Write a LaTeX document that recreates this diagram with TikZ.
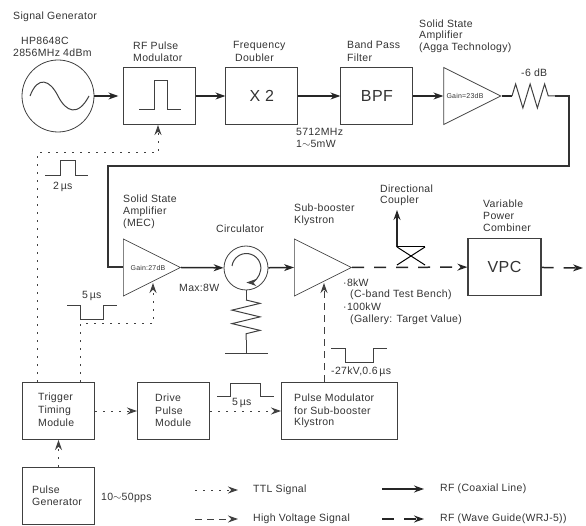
\documentclass[tikz,border=0pt]{standalone}
\usepackage{fontspec}
\setmainfont[LetterSpace=3]{Liberation Sans}
\usepackage{tikz}
\usetikzlibrary{decorations.pathmorphing,arrows.meta,positioning,calc,shapes.geometric}
\newcommand{\micro}{\,µs}

\begin{document}
\begin{tikzpicture}[x=1pt, y=-1pt, >={Stealth[length=10pt,width=7pt]}, font=\fontsize{10.5}{12}\selectfont, node distance=29pt]
  \tikzset{
    blk/.style={draw=black!75, line width=1pt, minimum width=72pt, minimum height=57pt, inner sep=0pt, align=left},
    amp/.style={draw=black!75, line width=0.7pt, isosceles triangle, isosceles triangle apex angle=54, isosceles triangle stretches, minimum width=57pt, minimum height=57pt, inner sep=0pt, anchor=west},
    lbl/.style={anchor=west, inner sep=0pt, align=left, text=black!80},
    big/.style={font=\fontsize{16}{18}\selectfont, text=black!80},
    tiny/.style={font=\fontsize{7}{8}\selectfont, text=black!80},
    coax/.style={line width=1.5pt, draw=black!85, ->},
    guide/.style={line width=1.5pt, draw=black!85, dash pattern=on 12pt off 10pt, ->},
    ttl/.style={line width=1pt, draw=black!75, dash pattern=on 2pt off 6pt, ->},
    hv/.style={line width=1pt, draw=black!75, dash pattern=on 7pt off 5pt, ->},
    wave/.style={draw=black!75, line width=0.8pt},
    rzig/.style={draw=black!75, line width=1pt, decorate, decoration={zigzag, segment length=14.5pt, amplitude=12pt}}
  }
  \useasboundingbox (0,0) rectangle (586,526);
  % top row
  \node[lbl] (sgtitle) at (13,17) {Signal Generator};
  \node[lbl] (sgname) at (21,41) {HP8648C};
  \node[lbl] (sgfreq) at (13,53) {2856MHz 4dBm};
  \node[draw=black!75, line width=0.8pt, circle, minimum size=72pt, inner sep=0pt] (SG) at (58,96) {};
  \draw[wave, line width=1pt] (30,96) .. controls (38,75) and (50,80) .. (58,96) .. controls (66,112) and (78,117) .. (89,96);
  \node[blk, right=29pt of SG] (PM) {};
  \draw[wave, line width=1pt] (139,110) -- (154,110) -- (154,81) -- (167,81) -- (167,110) -- (181,110);
  \node[blk, right=29pt of PM] (DBL) {};
  \node[big] (DBLt) at (DBL) {X 2};
  \node[blk, right=42pt of DBL] (BPF) {};
  \node[big] (BPFt) at (BPF) {BPF};
  \node[amp, right=30pt of BPF] (A1) {};
  \node[tiny] (A1t) at (465,96) {Gain=23dB};
  \node[lbl] at (133,46) {RF Pulse};
  \node[lbl] at (133,57.5) {Modulator};
  \node[lbl] at (233,46) {Frequency};
  \node[lbl] at (235,57.5) {Doubler};
  \node[lbl] at (347,45) {Band Pass};
  \node[lbl] at (347,57.5) {Filter};
  \node[lbl] at (419,24) {Solid State};
  \node[lbl] at (419,36) {Amplifier};
  \node[lbl] at (419,48) {(Agga Technology)};
  \node[lbl] at (521,73) {-6 dB};
  \node[lbl] at (296,132) {5712MHz};
  \node[lbl] at (296,144) {1$\sim$5mW};
  \coordinate (Rin) at (512,96);
  \coordinate (Rout) at (555,96);
  \coordinate (Rend) at (569,96);
  \coordinate (c1) at (569,166);
  \coordinate (c2) at (108,166);
  \draw[coax, shorten >=5pt] (SG) -- (PM);
  \draw[coax] (PM) -- (DBL);
  \draw[coax] (DBL) -- (BPF);
  \draw[coax] (BPF) -- (A1.west);
  \draw[line width=1.5pt, draw=black!85] (A1.east) -- (Rin);
  \draw[rzig] (Rin) -- (Rout);
  % long feed to the second amplifier
  \node[amp] (A2) at (123,267.5) {};
  \node[tiny] (A2t) at (148,268) {Gain:27dB};
  \draw[line width=2pt, draw=black!80] (Rout) -- (Rend) -- (c1) -- (c2) |- (A2.west);
  \node[lbl] at (123,199) {Solid State};
  \node[lbl] at (123,211.5) {Amplifier};
  \node[lbl] at (123,224) {(MEC)};
  \node[lbl] at (179,288) {Max:8W};
  % second row
  \node[draw=black!75, line width=0.8pt, circle, minimum size=44pt, inner sep=0pt] (CIRC) at (246,268) {};
  \draw[line width=1pt, draw=black!75, ->] (232,266) arc[start angle=172, end angle=-90, radius=14.5pt];
  \node[lbl] at (216,229) {Circulator};
  \node[amp] (KLY) at (294,267.5) {};
  \node[lbl] at (294,208) {Sub-booster};
  \node[lbl] at (294,221) {Klystron};
  \draw[coax] (A2.east) -- (CIRC);
  \draw[coax] (CIRC) -- (KLY.west);
  \coordinate (Gtop) at (246,300);
  \coordinate (Gbot) at (246,340);
  \coordinate (Gnd) at (246,353);
  \draw[wave] (CIRC.south) -- (Gtop);
  \draw[rzig, decoration={segment length=13.5pt, amplitude=14pt}] (Gtop) -- (Gbot);
  \draw[wave] (Gbot) -- (Gnd);
  \draw[wave] (225,353) -- (268,353);
  % coupler and combiner
  \node[blk, minimum width=73pt, line width=1.3pt] (VPC) at (504.5,267) {};
  \node[big] (VPCt) at (VPC) {VPC};
  \coordinate (VPCout) at (583,268);
  \coordinate (DCa) at (397,247);
  \coordinate (DCb) at (425,247);
  \coordinate (DCc) at (397,265);
  \coordinate (DCd) at (425,265);
  \coordinate (DCup) at (397,210);
  \draw[line width=1.3pt, draw=black!85, ->] (DCa -| DCup) -- (DCup);
  \draw[line width=1pt] (DCa) -- (DCb);
  \draw[line width=1pt] (DCa) -- (DCd);
  \draw[line width=1pt] (DCb) -- (DCc);
  \draw[guide] (KLY.east) -- (VPC);
  \draw[guide] (VPC) -- (VPCout);
  \node[lbl] at (380,189) {Directional};
  \node[lbl] at (380,201) {Coupler};
  \node[lbl] at (483,204) {Variable};
  \node[lbl] at (483,216) {Power};
  \node[lbl] at (483,228) {Combiner};
  \node[lbl] at (343,283) {·8kW};
  \node[lbl] at (350,295) {(C-band Test Bench)};
  \node[lbl] at (343,307) {·100kW};
  \node[lbl] at (350,320) {(Gallery: Target Value)};
  % bottom row
  \node[blk] (TRG) at (58.5,411) {};
  \node[lbl] at (38,398) {Trigger};
  \node[lbl] at (38,411) {Timing};
  \node[lbl] at (38,423) {Module};
  \node[blk, right=42pt of TRG] (DRV) {};
  \node[lbl] at (155,398) {Drive};
  \node[lbl] at (155,411) {Pulse};
  \node[lbl] at (155,423) {Module};
  \node[blk, minimum width=116pt, right=71pt of DRV] (MOD) {};
  \node[lbl] at (294,398) {Pulse Modulator};
  \node[lbl] at (294,411) {for Sub-booster};
  \node[lbl] at (294,423) {Klystron};
  \node[blk] (GEN) at (58.5,496) {};
  \node[lbl] at (32,490) {Pulse};
  \node[lbl] at (32,502) {Generator};
  \node[lbl] at (101,498) {10$\sim$50pps};
  % trigger lines
  \coordinate (t1) at (37,153);
  \coordinate (t2) at (80,324);
  \draw[ttl] (TRG.north -| t1) -- (t1) -| (158,125);
  \draw[ttl] (TRG.north -| t2) -- (t2) -| (153,283);
  \draw[ttl] (TRG) -- (DRV);
  \draw[ttl] (DRV) -- (MOD);
  \draw[ttl] (GEN) -- (TRG);
  \draw[hv] (MOD.north -| 324,0) -- (324,283);
  % pulse sketches
  \draw[wave] (45,175) -- (60,175) -- (60,160) -- (75,160) -- (75,175) -- (88,175);
  \node[lbl] at (53,187) {2\micro};
  \draw[wave] (67,305) -- (80,305) -- (80,319) -- (103,319) -- (103,305) -- (117,305);
  \node[lbl] at (82,296) {5\micro};
  \draw[wave] (331,348) -- (345,348) -- (345,362) -- (373,362) -- (373,348) -- (387,348);
  \node[lbl] at (331,372) {-27kV,0.6\micro};
  \draw[wave] (217,396) -- (230,396) -- (230,383) -- (260,383) -- (260,396) -- (274,396);
  \node[lbl] at (232,403) {5\micro};
  % legend
  \coordinate (k1) at (195,490);
  \coordinate (k2) at (238,490);
  \coordinate (k3) at (195,519);
  \coordinate (k4) at (238,519);
  \coordinate (k5) at (382,489);
  \coordinate (k6) at (424,489);
  \coordinate (k7) at (382,519);
  \coordinate (k8) at (424,519);
  \draw[ttl] (k1) -- (k2);
  \draw[hv] (k3) -- (k4);
  \draw[coax] (k5) -- (k6);
  \draw[guide] (k7) -- (k8);
  \node[lbl, right=15pt of k2] {TTL Signal};
  \node[lbl, right=15pt of k4] {High Voltage Signal};
  \node[lbl, right=16pt of k6] {RF (Coaxial Line)};
  \node[lbl, right=16pt of k8] {RF (Wave Guide(WRJ-5))};
\end{tikzpicture}
\end{document}
